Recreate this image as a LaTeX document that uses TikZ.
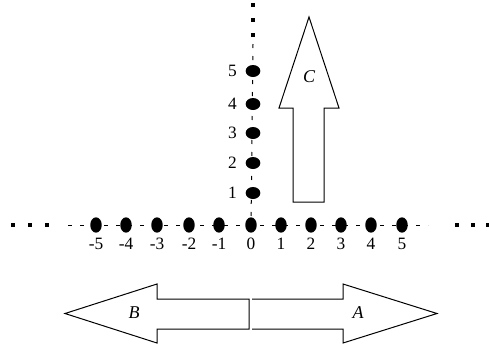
\documentclass[tikz,border=0pt]{standalone}
\usepackage{fontspec}
\setmainfont{Liberation Serif}
\usetikzlibrary{shapes.geometric}
\begin{document}
\begin{tikzpicture}[x=0.75pt,y=-0.75pt,
  font=\fontsize{13}{15}\selectfont,
  hdot/.style={ellipse,fill=black,inner sep=0pt,minimum width=8.6pt,minimum height=11.5pt},
  vdot/.style={ellipse,fill=black,inner sep=0pt,minimum width=11pt,minimum height=9pt},
  farpt/.style={rectangle,fill=black,inner sep=0pt,minimum width=2.4pt,minimum height=2.4pt},
  axisline/.style={line width=0.75pt,dash pattern=on 3pt off 6pt},
  blockarrow/.style={line width=0.75pt,line join=miter},
  num/.style={inner sep=0pt},
  tag/.style={inner sep=0pt,font=\fontsize{13.5}{15}\selectfont\itshape}]
\useasboundingbox (0,0) rectangle (489,351);

% horizontal axis
\coordinate (hl) at (68,225);
\coordinate (hr) at (428,225);
\draw[axisline] (hl) -- (hr);
\foreach \i/\x in {-5/96,-4/126,-3/157,-2/189,-1/219,0/251,1/281,2/311,3/341,4/371,5/402}{
  \node[hdot] (h\i) at (\x,225) {};
  \node[num] (hl\i) at (\x,244) {\i};
}
\foreach \n/\x in {1/13,2/30,3/47,4/457,5/473,6/488}{
  \node[farpt] (hp\n) at (\x,225) {};
}

% vertical axis
\coordinate (vt) at (253,44);
\draw[axisline] (vt) -- (h0);
\foreach \i/\y in {1/193,2/163,3/133,4/104,5/71}{
  \node[vdot] (v\i) at (253,\y) {};
  \node[num,anchor=east] (vl\i) at (237,\y) {\i};
}
\foreach \n/\y in {1/5,2/20,3/35}{
  \node[farpt] (vp\n) at (253,\y) {};
}

% arrow C (up)
\draw[blockarrow] (293,202) -- (293,108) -- (279,108) -- (309,17) -- (339,108)
  -- (324,108) -- (324,202) -- cycle;
\node[tag] (C) at (309,77) {C};

% arrow B (left)
\draw[blockarrow] (249,299) -- (157,299) -- (157,284) -- (65,313.5) -- (157,343)
  -- (157,329) -- (249,329) -- cycle;
\node[tag] (B) at (134,313) {B};

% arrow A (right)
\draw[blockarrow] (252,299) -- (343,299) -- (343,284) -- (437,313.5) -- (343,343)
  -- (343,329) -- (252,329);
\node[tag] (A) at (358,313) {A};
\end{tikzpicture}
\end{document}
